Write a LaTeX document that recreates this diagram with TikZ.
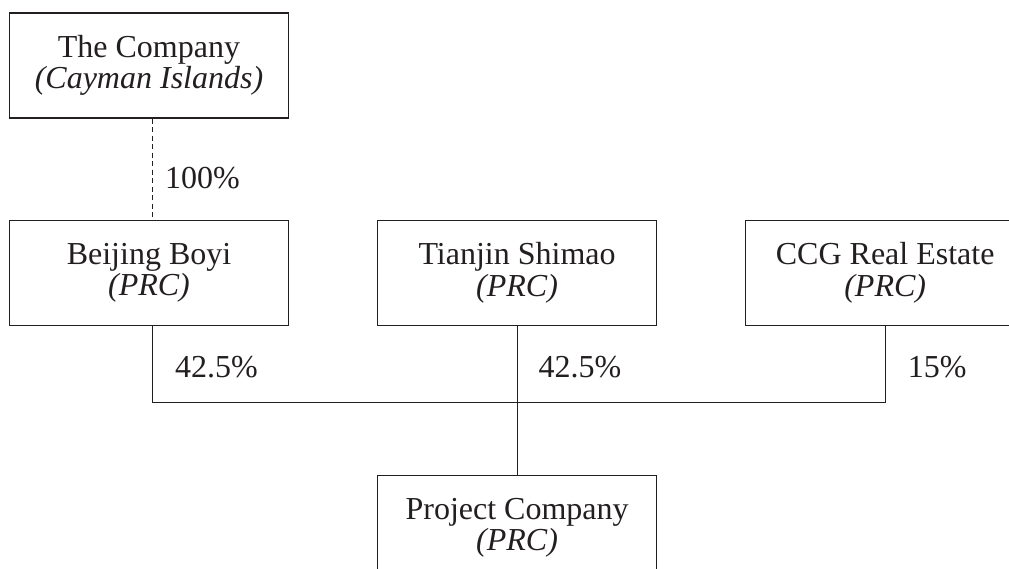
\documentclass[tikz,border=0pt]{standalone}
\usepackage{fontspec}
\setmainfont{Liberation Serif}
\usetikzlibrary{positioning}
\definecolor{ink}{RGB}{35,31,32}

\begin{document}
\begin{tikzpicture}[
  x=1pt, y=1pt,
  ent/.style={draw=ink, line width=1.1pt, align=center, text=ink,
              font=\fontsize{32}{31.5}\selectfont,
              minimum width=279pt, minimum height=105pt, inner sep=0pt},
  pct/.style={text=ink, font=\fontsize{32}{32}\selectfont,
              inner sep=0pt, anchor=west, xshift=22pt, yshift=-3pt},
  link/.style={draw=ink, line width=1.1pt},
]
\useasboundingbox (0,0) rectangle (1009,-568);
\clip (0,0) rectangle (1009,-568);
\fill[white] (0,0) rectangle (1009,-568);

%% ---- Holding company ----

\node[ent] (company) at (149,-65.5) {The Company\\\textit{(Cayman Islands)}};

%% ---- Shareholders ----

\node[ent, below=101pt of company] (boyi)   {Beijing Boyi\\\textit{(PRC)}};
\node[ent, right=88pt of boyi]     (shimao) {Tianjin Shimao\\\textit{(PRC)}};
\node[ent, right=88pt of shimao]   (ccg)    {CCG Real Estate\\\textit{(PRC)}};

\draw[link, line width=1.2pt, dash pattern=on 5pt off 3.5pt]
    ([xshift=3.5pt]company.south) --
    node[pct, xshift=-10pt, yshift=-6pt]{100\%}
    ([xshift=3.5pt]boyi.north);

%% ---- Project company ----

\node[ent, below=149pt of shimao] (project) {Project Company\\\textit{(PRC)}};

\coordinate[below=77pt of boyi.south, xshift=3.5pt] (bus);

\draw[link] ([xshift=3.5pt]boyi.south) -- node[pct]{42.5\%} (bus)
    -| node[pct, pos=0.75]{15\%} (ccg.south);
\draw[link] (shimao.south) -- node[pct, xshift=-1pt]{42.5\%} (shimao.south |- bus)
    -- (project.north);

\end{tikzpicture}
\end{document}
